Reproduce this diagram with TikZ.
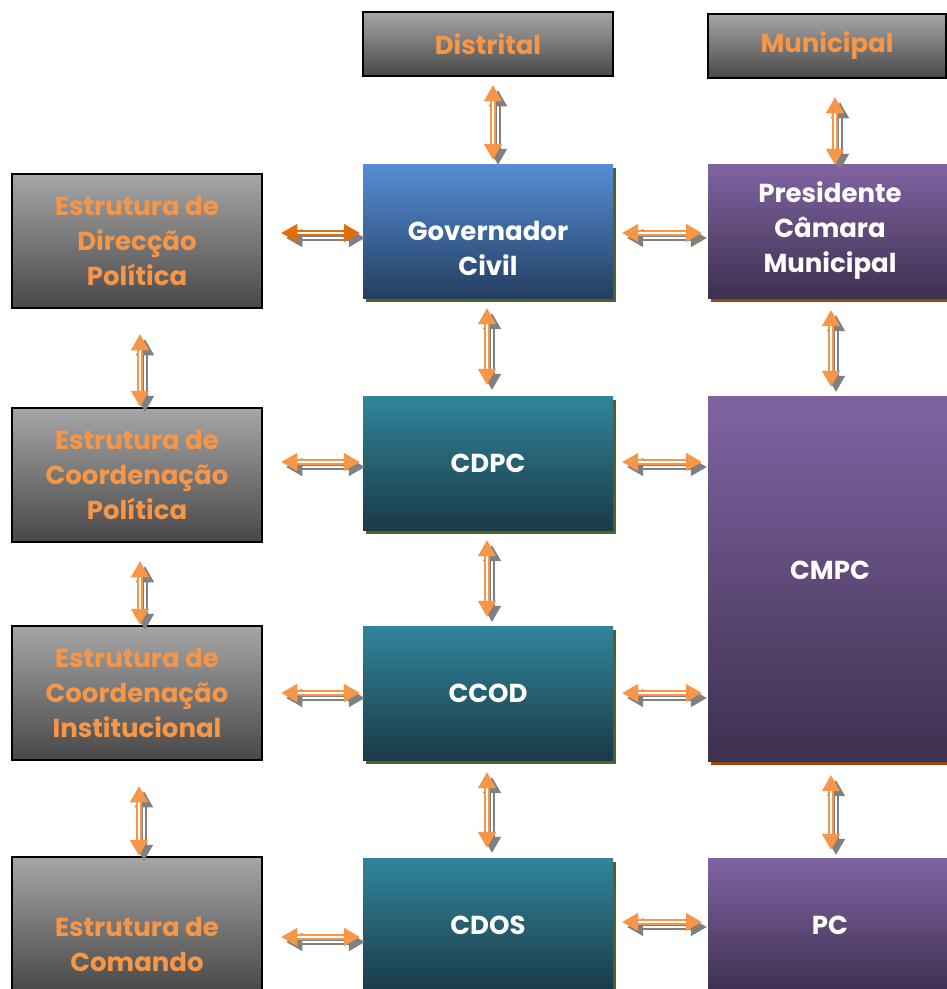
\documentclass[tikz,border=0pt]{standalone}
\usepackage{fontspec}
\setmainfont{Poppins}
\usetikzlibrary{arrows.meta,shadows,calc}
\definecolor{gtop}{RGB}{166,166,166}
\definecolor{gbot}{RGB}{72,72,72}
\definecolor{btop}{RGB}{85,142,213}
\definecolor{bbot}{RGB}{36,62,96}
\definecolor{ttop}{RGB}{49,133,156}
\definecolor{tbot}{RGB}{26,58,70}
\definecolor{ptop}{RGB}{128,100,162}
\definecolor{pbot}{RGB}{62,48,80}
\definecolor{orangec}{RGB}{247,150,70}
\definecolor{darkorange}{RGB}{228,108,10}
\definecolor{olivec}{RGB}{79,98,40}
\definecolor{brownc}{RGB}{152,72,7}
\definecolor{arrgray}{RGB}{128,128,128}
\newcommand\biarr[3][orangec]{%
  \draw[arrline,draw=arrgray,transform canvas={xshift=5pt,yshift=-5pt}] #2 -- #3;
  \draw[arrline,draw=#1] #2 -- #3;}
\begin{document}
\begin{tikzpicture}[x=1pt,y=-1pt,
  boxfont/.style={font=\bfseries\fontsize{26}{35}\selectfont},
  graybox/.style={boxfont,draw=black,line width=2.5pt,top color=gtop,bottom color=gbot,
    text=orangec,align=center,inner sep=0pt,minimum width=250pt,minimum height=134pt},
  bluebox/.style={boxfont,top color=btop,bottom color=bbot,text=white,align=center,inner sep=0pt,
    minimum width=250pt,minimum height=134pt,
    general shadow={fill=olivec,shadow xshift=3pt,shadow yshift=-4pt}},
  tealbox/.style={bluebox,top color=ttop,bottom color=tbot},
  purplebox/.style={boxfont,top color=ptop,bottom color=pbot,text=white,align=center,inner sep=0pt,
    minimum width=244pt,minimum height=134pt,
    general shadow={fill=brownc,shadow xshift=3pt,shadow yshift=-4pt}},
  wtext/.style={boxfont,text=white,align=center},
  otext/.style={boxfont,text=orangec,align=center},
  arrline/.style={line width=1.6pt,double=white,double distance=2.2pt,
    {Triangle[length=16pt,width=18pt]}-{Triangle[length=16pt,width=18pt]}}
]
\clip (0,0) rectangle (947,989);
\fill[white] (0,0) rectangle (947,989);
% top row
\node[graybox,minimum height=64pt] (dist) at (488,44) {Distrital};
\node[graybox,minimum width=238pt,minimum height=64pt] (muni) at (827,46) {Municipal};
% row 1
\node[graybox] (dir) at (137,241) {Estrutura de\\Direcção\\Política};
\node[bluebox] (gov) at (488,231) {};
\node[wtext] (govt) at ($(gov.center)+(0,17)$) {Governador\\Civil};
\node[purplebox] (pres) at (830,231) {Presidente\\Câmara\\Municipal};
% row 2
\node[graybox] (coordpol) at (137,475) {Estrutura de\\Coordenação\\Política};
\node[tealbox] (cdpc) at (488,463) {CDPC};
\node[purplebox,minimum height=365pt] (cmpc) at (830,578.5) {};
\node[wtext] (cmpct) at ($(cmpc.center)+(0,-8)$) {CMPC};
% row 3
\node[graybox] (inst) at (137,693) {Estrutura de\\Coordenação\\Institucional};
\node[tealbox] (ccod) at (488,693) {CCOD};
% row 4
\node[graybox] (com) at (137,924) {};
\node[otext] (comt) at ($(com.center)+(0,20)$) {Estrutura de\\Comando};
\node[tealbox] (cdos) at (488,925) {CDOS};
\node[purplebox] (pc) at (830,925) {PC};
% vertical arrows
\biarr{($(dist.south)+(5,8)$)}{($(gov.north)+(5,-4)$)}
\biarr{($(muni.south)+(8,18)$)}{($(pres.north)+(5,1)$)}
\biarr{($(gov.south)+(-1,10)$)}{($(cdpc.north)+(-1,-11)$)}
\biarr{($(pres.south)+(1,12)$)}{($(cmpc.north)+(1,-9)$)}
\biarr{($(dir.south)+(3,25)$)}{($(coordpol.north)+(3,0)$)}
\biarr{($(cdpc.south)+(-1,10)$)}{($(ccod.north)+(-1,-9)$)}
\biarr{($(coordpol.south)+(3,18)$)}{($(inst.north)+(3,0)$)}
\biarr{($(ccod.south)+(-1,12)$)}{($(cdos.north)+(-1,-10)$)}
\biarr{($(inst.south)+(2,25)$)}{($(com.north)+(2,0)$)}
\biarr{($(cmpc.south)+(1,14)$)}{($(pc.north)+(1,-8)$)}
% horizontal arrows
\biarr[darkorange]{($(dir.east)+(18,-8)$)}{($(gov.west)+(-3,2)$)}
\biarr{($(gov.east)+(9,2)$)}{($(pres.west)+(-6,2)$)}
\biarr{($(coordpol.east)+(18,-13)$)}{($(cdpc.west)+(-3,-1)$)}
\biarr{($(cdpc.east)+(9,-1)$)}{($(cmpc.west |- cdpc.east)+(-6,-1)$)}
\biarr{($(inst.east)+(18,0)$)}{($(ccod.west)+(-3,0)$)}
\biarr{($(ccod.east)+(9,0)$)}{($(cmpc.west |- ccod.east)+(-6,0)$)}
\biarr{($(com.east)+(18,13)$)}{($(cdos.west)+(-3,12)$)}
\biarr{($(cdos.east)+(9,-3)$)}{($(pc.west)+(-6,-3)$)}
\end{tikzpicture}
\end{document}
